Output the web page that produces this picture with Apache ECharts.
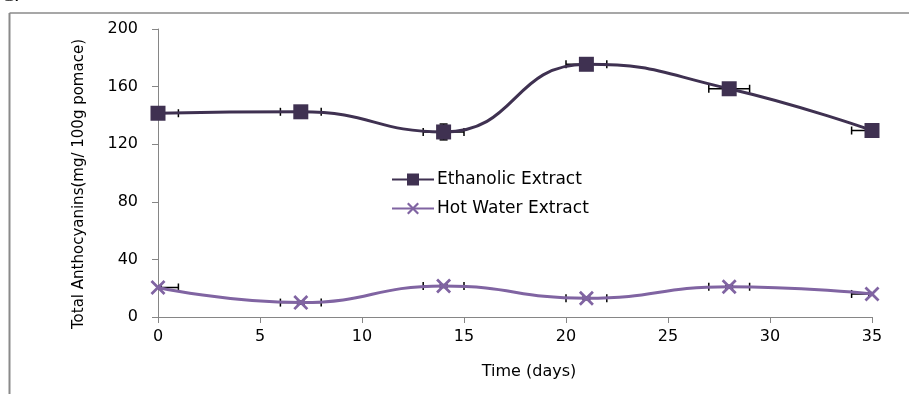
<!DOCTYPE html>
<html>
<head>
<meta charset="utf-8">
<script src="https://cdn.jsdelivr.net/npm/echarts@6/dist/echarts.min.js"></script>
<style>
html,body{margin:0;padding:0;background:#fff;}
#chart{width:909px;height:394px;}
</style>
</head>
<body>
<div id="chart"></div>
<script>
// Data
var days = [0, 7, 14, 21, 28, 35];
var ethanolic = [141.5, 142.5, 128.5, 175.5, 158.5, 129.5];
var hotWater = [20.5, 10, 21.5, 13, 21, 16];
var ethXErr = [1, 1, 1, 1, 1, 1];
var ethYErr = [1.5, 1.5, 5.5, 2, 1.5, 2];
var hotXErr = [1, 1, 1, 1, 1, 1];
var hotYErr = [1, 1, 1, 1, 1, 1];
var yTicks = [0, 40, 80, 120, 160, 200];
var xTicks = [0, 5, 10, 15, 20, 25, 30, 35];

var FONT = 'DejaVu Sans';
var ETH_COLOR = '#3f3151';
var HOT_COLOR = '#8064a2';
var X_PATH = 'path://M0,1.3L1.3,0L10,8.7L8.7,10Z M8.7,0L10,1.3L1.3,10L0,8.7Z';

function pairs(xs, ys) { return xs.map(function (x, i) { return [x, ys[i]]; }); }
function errData(xs, ys, xe, ye) { return xs.map(function (x, i) { return [x, ys[i], xe[i], ye[i]]; }); }

function renderErr(params, api) {
  var x = api.value(0), y = api.value(1), xe = api.value(2), ye = api.value(3);
  var c = api.coord([x, y]);
  var l = api.coord([x - xe, y]);
  var r = api.coord([x + xe, y]);
  var t = api.coord([x, y + ye]);
  var b = api.coord([x, y - ye]);
  var cap = 4;
  var st = { stroke: '#000', lineWidth: 1.5, fill: null };
  return {
    type: 'group',
    children: [
      { type: 'line', shape: { x1: l[0], y1: c[1], x2: r[0], y2: c[1] }, style: st },
      { type: 'line', shape: { x1: l[0], y1: c[1] - cap, x2: l[0], y2: c[1] + cap }, style: st },
      { type: 'line', shape: { x1: r[0], y1: c[1] - cap, x2: r[0], y2: c[1] + cap }, style: st },
      { type: 'line', shape: { x1: c[0], y1: t[1], x2: c[0], y2: b[1] }, style: st },
      { type: 'line', shape: { x1: c[0] - cap, y1: t[1], x2: c[0] + cap, y2: t[1] }, style: st },
      { type: 'line', shape: { x1: c[0] - cap, y1: b[1], x2: c[0] + cap, y2: b[1] }, style: st }
    ]
  };
}

var chart = echarts.init(document.getElementById('chart'), null, { renderer: 'canvas' });
chart.setOption({
  animation: false,
  backgroundColor: '#fff',
  textStyle: { fontFamily: FONT },
  grid: { left: 158, right: 37, top: 29, bottom: 77, containLabel: false },
  legend: {
    orient: 'vertical',
    left: 386,
    top: 166,
    itemWidth: 42,
    itemHeight: 15,
    itemGap: 12,
    textStyle: { fontFamily: FONT, fontSize: 17, color: '#000', padding: [0, 0, 0, -2] },
    data: ['Ethanolic Extract', 'Hot Water Extract']
  },
  xAxis: {
    type: 'value',
    min: 0, max: 35, interval: 5,
    name: 'Time (days)',
    nameLocation: 'middle',
    nameGap: 47,
    nameTextStyle: { fontFamily: FONT, fontSize: 16, color: '#000', padding: [0, 0, 0, 28] },
    axisLine: { show: true, lineStyle: { color: '#868686', width: 1 } },
    axisTick: { show: true, inside: false, length: 6, lineStyle: { color: '#868686' } },
    axisLabel: { fontFamily: FONT, fontSize: 16, color: '#000', margin: 12,
      formatter: function (v) { return xTicks.indexOf(v) >= 0 ? String(v) : ''; } },
    splitLine: { show: false }
  },
  yAxis: {
    type: 'value',
    min: 0, max: 200, interval: 40,
    name: 'Total Anthocyanins(mg/ 100g pomace)',
    nameLocation: 'middle',
    nameGap: 71,
    nameTextStyle: { fontFamily: FONT, fontSize: 15, color: '#000', padding: [0, 22, 0, 0] },
    axisLine: { show: true, lineStyle: { color: '#868686', width: 1 } },
    axisTick: { show: true, inside: false, length: 6, lineStyle: { color: '#868686' } },
    axisLabel: { fontFamily: FONT, fontSize: 16, color: '#000', margin: 20,
      formatter: function (v) { return yTicks.indexOf(v) >= 0 ? String(v) : ''; } },
    splitLine: { show: false }
  },
  graphic: [
    { type: 'line', shape: { x1: 9.5, y1: 13, x2: 909, y2: 13 }, style: { stroke: '#8a8a8a', lineWidth: 1.5 }, silent: true },
    { type: 'line', shape: { x1: 9.5, y1: 13, x2: 9.5, y2: 394 }, style: { stroke: '#8a8a8a', lineWidth: 2 }, silent: true },
    { type: 'text', left: 1, top: -14, style: { text: 'C.', font: '20px "Liberation Serif"', fill: '#000' }, silent: true }
  ],
  series: [
    {
      name: 'Ethanolic Extract',
      type: 'line',
      smooth: 0.5,
      data: pairs(days, ethanolic),
      symbol: 'rect',
      symbolSize: 15,
      showAllSymbol: true,
      lineStyle: { color: ETH_COLOR, width: 3 },
      itemStyle: { color: ETH_COLOR },
      z: 3
    },
    {
      name: 'Hot Water Extract',
      type: 'line',
      smooth: 0.5,
      data: pairs(days, hotWater),
      symbol: X_PATH,
      symbolSize: 15,
      showAllSymbol: true,
      lineStyle: { color: HOT_COLOR, width: 3 },
      itemStyle: { color: HOT_COLOR },
      z: 3
    },
    {
      type: 'custom',
      renderItem: renderErr,
      data: errData(days, ethanolic, ethXErr, ethYErr),
      clip: true,
      silent: true,
      z: 2
    },
    {
      type: 'custom',
      renderItem: renderErr,
      data: errData(days, hotWater, hotXErr, hotYErr),
      clip: true,
      silent: true,
      z: 2
    }
  ]
});
</script>
</body>
</html>
